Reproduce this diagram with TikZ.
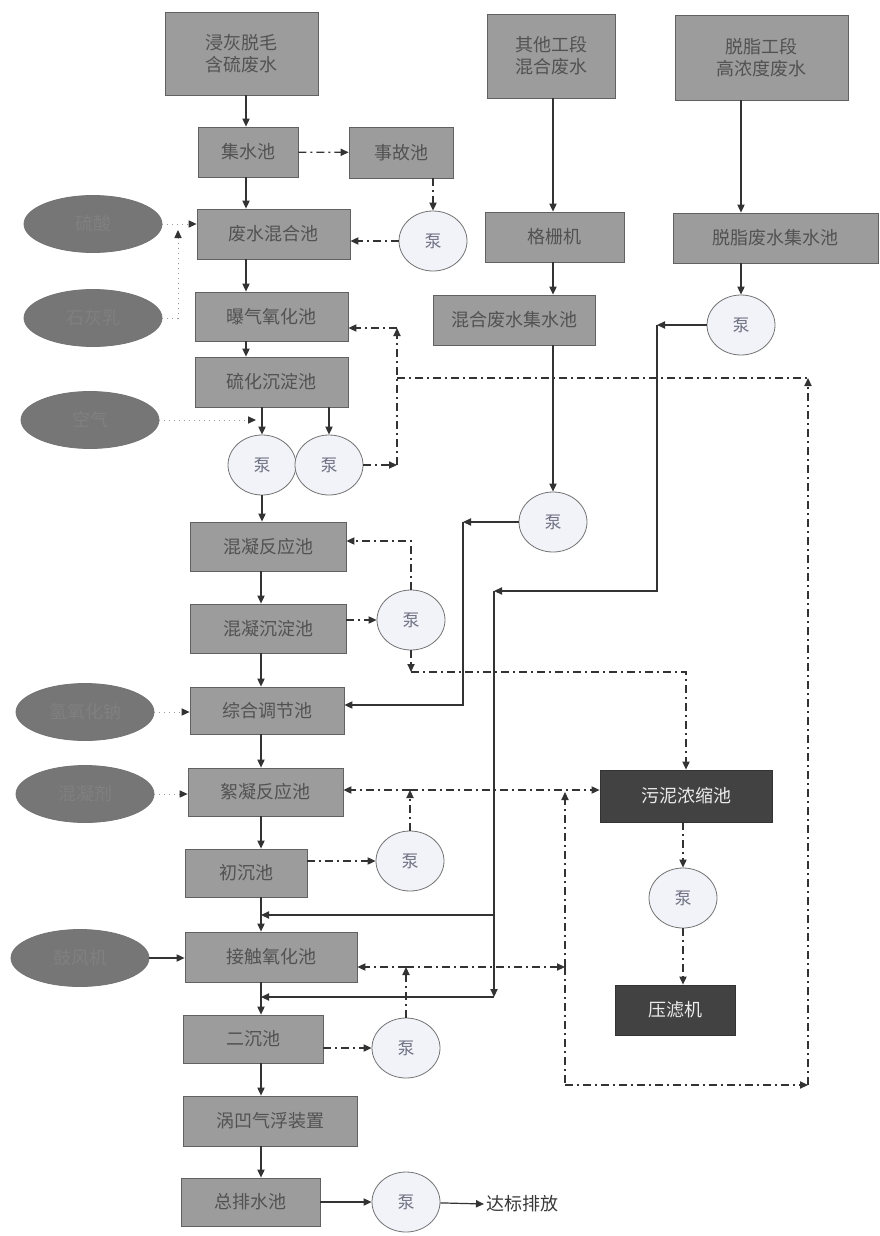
\documentclass[tikz,border=0pt]{standalone}
\usepackage{fontspec}
\newfontfamily\cjk{Noto Sans CJK SC}
\usetikzlibrary{arrows.meta,shapes.geometric}
\definecolor{poolgray}{RGB}{156,156,156}
\definecolor{druggray}{RGB}{118,118,118}
\definecolor{pumpfill}{RGB}{241,243,248}
\definecolor{pumptext}{RGB}{112,114,132}
\definecolor{tankdark}{RGB}{66,66,66}
\tikzset{
  pool/.style={draw=black!62, fill=poolgray, text=black!68, align=center, inner sep=0pt,
    font={\cjk\fontsize{9}{11}\selectfont}},
  tank/.style={pool, fill=tankdark, draw=black!80, text=white!92!black},
  drug/.style={ellipse, draw=black!55, fill=druggray, text=black!50, inner sep=0pt,
    minimum width=69pt, minimum height=28.5pt, font={\cjk\fontsize{9}{11}\selectfont}},
  pump/.style={ellipse, draw=black!55, fill=pumpfill, text=pumptext, inner sep=0pt,
    minimum width=34pt, minimum height=30pt, font={\cjk\fontsize{8.5}{10}\selectfont}},
  flow/.style={draw=black!80, line width=0.6pt, -{Triangle[length=4pt,width=3.6pt]}},
  mud/.style={flow, dash pattern=on 4pt off 2pt on 1pt off 2pt},
  feed/.style={draw=black!40, line width=0.5pt, dotted, -{Triangle[length=4pt,width=3.6pt,color=black!80]}}
}
\begin{document}
\begin{tikzpicture}[x=0.5pt,y=-0.5pt]
\useasboundingbox (0,0) rectangle (879,1236);
% main line
\node[pool,minimum width=76.5pt,minimum height=41.5pt] (l1) at (241.5,53.5) {浸灰脱毛\\含硫废水};
\node[pool,minimum width=50pt,minimum height=25pt] (l2) at (248,152) {集水池};
\node[pool,minimum width=52pt,minimum height=25.5pt] (l2r) at (401,152.5) {事故池};
\node[pool,minimum width=76.5pt,minimum height=25pt] (l3) at (273.5,234) {废水混合池};
\node[pool,minimum width=76.5pt,minimum height=24.5pt] (l4) at (271.5,316.5) {曝气氧化池};
\node[pool,minimum width=76.5pt,minimum height=25pt] (l5) at (271.5,382) {硫化沉淀池};
\node[pool,minimum width=78pt,minimum height=24.5pt] (l6) at (268,546.5) {混凝反应池};
\node[pool,minimum width=78pt,minimum height=24.5pt] (l7) at (268,628.5) {混凝沉淀池};
\node[pool,minimum width=77pt,minimum height=23.5pt] (l8) at (267,710.5) {综合调节池};
\node[pool,minimum width=77.5pt,minimum height=24pt] (l9) at (265.5,792) {絮凝反应池};
\node[pool,minimum width=61pt,minimum height=24pt] (l10) at (246,873) {初沉池};
\node[pool,minimum width=86pt,minimum height=25pt] (l11) at (271,957) {接触氧化池};
\node[pool,minimum width=70pt,minimum height=24pt] (l12) at (253,1039) {二沉池};
\node[pool,minimum width=87pt,minimum height=25pt] (l13) at (270,1121) {涡凹气浮装置};
\node[pool,minimum width=69.5pt,minimum height=24pt] (l14) at (250.5,1202) {总排水池};
\node[font={\cjk\fontsize{9}{11}\selectfont}, text=black!78, anchor=west, inner sep=1pt] (out) at (484,1204) {达标排放};
% dosing
\node[drug] (e1) at (93,224) {硫酸};
\node[drug] (e2) at (93,318) {石灰乳};
\node[drug] (e3) at (90,420) {空气};
\node[drug] (e4) at (85,712) {氢氧化钠};
\node[drug] (e5) at (85,794) {混凝剂};
\node[drug] (e6) at (80,958) {鼓风机};
% second and third line
\node[pool,minimum width=64pt,minimum height=42pt] (m1) at (551,56) {其他工段\\混合废水};
\node[pool,minimum width=69.5pt,minimum height=25pt] (m2) at (554.5,237) {格栅机};
\node[pool,minimum width=81pt,minimum height=25pt] (m3) at (514,320) {混合废水集水池};
\node[pool,minimum width=86.5pt,minimum height=42.5pt] (r1) at (761.5,57.5) {脱脂工段\\高浓度废水};
\node[pool,minimum width=102.5pt,minimum height=25pt] (r2) at (775.5,238) {脱脂废水集水池};
% sludge
\node[tank,minimum width=86pt,minimum height=26pt] (s1) at (686,796) {污泥浓缩池};
\node[tank,minimum width=60pt,minimum height=25pt] (s2) at (675,1010) {压滤机};
% pumps
\node[pump] (p1) at (433,241) {泵};
\node[pump] (p2) at (262,465) {泵};
\node[pump] (p3) at (329,465) {泵};
\node[pump] (p4) at (411,620) {泵};
\node[pump] (p5) at (410,861) {泵};
\node[pump] (p6) at (406,1048) {泵};
\node[pump] (p7) at (406,1202) {泵};
\node[pump] (pm) at (553,522) {泵};
\node[pump] (pr) at (741,325) {泵};
\node[pump] (ps) at (683,898) {泵};
\coordinate (sa) at (246,0);
\coordinate (sb) at (261,0);
\coordinate (mx) at (553,0);
\coordinate (rx) at (741,0);
% main flow
\draw[flow] (l1.south -| sa) -- (l2.north -| sa);
\draw[flow] (l2.south -| sa) -- (l3.north -| sa);
\draw[flow] (l3.south -| sa) -- (l4.north -| sa);
\draw[flow] (l4.south -| sa) -- (l5.north -| sa);
\draw[flow] (l5.south -| p2) -- (p2);
\draw[flow] (l5.south -| p3) -- (p3);
\draw[flow] (p2) -- (l6.north -| p2);
\draw[flow] (l6.south -| sb) -- (l7.north -| sb);
\draw[flow] (l7.south -| sb) -- (l8.north -| sb);
\draw[flow] (l8.south -| sb) -- (l9.north -| sb);
\draw[flow] (l9.south -| sb) -- (l10.north -| sb);
\draw[flow] (l10.south -| sb) -- (l11.north -| sb);
\draw[flow] (l11.south -| sb) -- (l12.north -| sb);
\draw[flow] (l12.south -| sb) -- (l13.north -| sb);
\draw[flow] (l13.south -| sb) -- (l14.north -| sb);
\draw[flow] (l14) -- (p7);
\draw[flow] (p7) -- (out.west);
% dosing lines
\coordinate (j1) at (178,230);
\draw[feed] (e1) -- (l3.west |- e1);
\draw[feed] (e2.east) -| (j1);
\draw[feed] (e3) -- (256,420);
\draw[feed] (e4) -- (l8.west |- e4);
\draw[feed] (e5) -- (l9.west |- e5);
\draw[flow] (e6) -- (l11.west |- e6);
% other lines
\draw[flow] (m1.south -| mx) -- (m2.north -| mx);
\draw[flow] (m2.south -| mx) -- (m3.north -| mx);
\draw[flow] (m3.south -| pm) -- (pm);
\coordinate (k1) at (463,522);
\coordinate (k2) at (463,705);
\draw[flow] (pm) -- (k1);
\draw[flow] (k1) |- (l8.east |- k2);
\draw[flow] (r1.south -| rx) -- (r2.north -| rx);
\draw[flow] (r2.south -| pr) -- (pr);
\coordinate (t1) at (657,325);
\coordinate (t2) at (494,591);
\coordinate (t3) at (494,997);
\coordinate (t4) at (494,915);
\draw[flow] (pr) -- (t1);
\draw[flow] (t1) |- (t2);
\draw[flow] (t2) -- (t3);
\draw[flow] (t4) -- (sb |- t4);
\draw[flow] (t3) -- (sb |- t3);
% sludge and return lines
\draw[mud] (l2) -- (l2r);
\draw[mud] (l2r.south -| p1) -- (p1);
\draw[mud] (p1) -- (l3.east |- p1);
\coordinate (c1) at (397,465);
\coordinate (c2) at (397,328);
\coordinate (c3) at (397,378);
\coordinate (c4) at (808,378);
\coordinate (c5) at (808,1085);
\coordinate (c6) at (565,1085);
\coordinate (c7) at (565,967);
\coordinate (c8) at (565,792);
\draw[mud] (p3) -- (c1);
\draw[mud] (c1) -- (c2);
\draw[mud] (c2) -- (l4.east |- c2);
\draw[mud,-] (c3) -- (c4);
\draw[mud] (c5) -- (c4);
\draw[mud] (c6) -- (c5);
\draw[mud,-] (c7) -- (c6);
\draw[mud] (c7) -- (c8);
\coordinate (r4a) at (411,541);
\coordinate (r4b) at (411,672);
\draw[mud] (l7.east |- p4) -- (p4);
\draw[mud] (p4) |- (l6.east |- r4a);
\draw[mud] (p4) -- (r4b);
\draw[mud] (r4b) -| (s1.north);
\coordinate (r5) at (410,790);
\draw[mud] (l10.east |- p5) -- (p5);
\draw[mud] (p5) -- (r5);
\draw[mud] (r5) -- (l9.east |- r5);
\draw[mud] (r5) -- (s1.west |- r5);
\coordinate (r6) at (406,967);
\draw[mud] (l12.east |- p6) -- (p6);
\draw[mud] (p6) -- (r6);
\draw[mud] (r6) -- (l11.east |- r6);
\draw[mud] (r6) -- (c7);
\draw[mud] (s1.south -| ps) -- (ps);
\draw[mud] (ps) -- (s2.north -| ps);
\end{tikzpicture}
\end{document}
